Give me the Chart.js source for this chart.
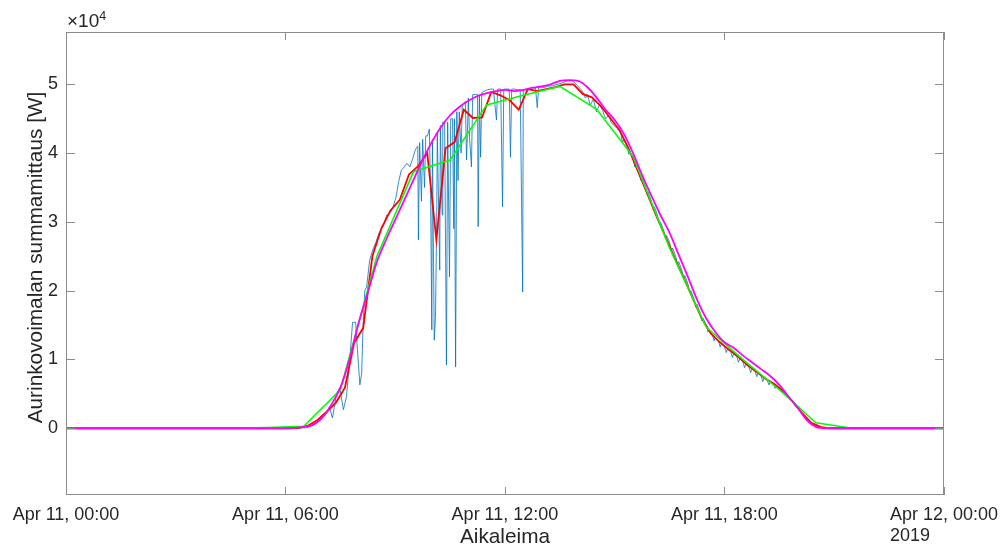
<!DOCTYPE html>
<html>
<head>
<meta charset="utf-8">
<script src="https://cdn.jsdelivr.net/npm/chart.js@4.4.1/dist/chart.umd.min.js"></script>
<style>
  html, body { margin: 0; padding: 0; background: #fff; }
  canvas { display: block; }
</style>
</head>
<body>
<canvas id="power" width="1007" height="549"></canvas>
<script>
// time = minutes from Apr 11 00:00, power in units of 10^4 W
var xTicks = [0, 360, 720, 1080, 1440];
var xTickLabels = ['Apr 11, 00:00', 'Apr 11, 06:00', 'Apr 11, 12:00', 'Apr 11, 18:00', 'Apr 12, 00:00'];
var yTicks = [0, 1, 2, 3, 4, 5];

// raw measurement (blue)
var rawTime = [0, 380, 395, 405, 412, 418, 423, 428, 432, 437, 444, 449, 455, 460, 465, 470, 475, 478, 482, 485, 487, 490, 493, 498, 503, 508, 514,
  521, 526, 531, 536, 541, 546, 550, 555, 559, 564, 568, 573, 577, 578, 580, 583, 585, 588, 590, 593, 596, 598, 600, 601, 604, 606, 608, 609,
  613, 614, 617, 618, 621, 624, 626, 629, 631, 634, 636, 637, 639, 641, 643, 645, 648, 650, 655, 657, 660, 662, 665, 667, 672, 675, 676, 678,
  680, 682, 686, 691, 696, 701, 706, 708, 713, 716, 718, 722, 727, 729, 731, 736, 740, 745, 749, 750, 755, 760, 765, 770, 773, 775, 781, 790,
  798, 806, 814, 822, 831, 839, 847, 852, 855, 860, 865, 870, 875, 880, 885, 890, 894, 899, 905, 910, 913, 915, 920, 923, 925, 930, 933, 935,
  940, 943, 945, 950, 953, 955, 960, 963, 965, 970, 973, 975, 980, 983, 985, 990, 993, 995, 1000, 1003, 1005, 1010, 1013, 1015, 1020, 1023,
  1025, 1030, 1033, 1035, 1040, 1043, 1045, 1050, 1053, 1055, 1060, 1063, 1065, 1070, 1073, 1075, 1080, 1083, 1085, 1090, 1093, 1095, 1100,
  1103, 1105, 1110, 1113, 1115, 1120, 1123, 1125, 1130, 1133, 1135, 1140, 1143, 1145, 1150, 1153, 1155, 1160, 1163, 1165, 1170, 1175, 1180,
  1185, 1190, 1195, 1200, 1205, 1210, 1215, 1220, 1225, 1230, 1240, 1250, 1440];
var rawPower = [0, 0, 0.01, 0.04, 0.08, 0.12, 0.18, 0.22, 0.31, 0.15, 0.51, 0.59, 0.27, 0.46, 0.95, 1.54, 1.54, 1.14, 0.63, 0.8, 1.43, 2.0, 2.05, 2.44, 2.59, 2.7, 2.85,
  2.95, 3.1, 3.12, 3.2, 3.35, 3.6, 3.75, 3.8, 3.85, 3.8, 3.9, 4.05, 4.1, 2.74, 4.15, 3.3, 4.2, 3.5, 4.25, 4.25, 4.35, 3.4, 1.43, 4.2, 1.28, 1.61, 3.0, 4.3,
  2.3, 4.4, 3.1, 4.45, 4.45, 0.92, 4.45, 2.2, 4.5, 4.5, 2.9, 4.5, 0.89, 4.6, 3.6, 4.6, 4.0, 4.7, 4.75, 3.9, 4.8, 4.2, 3.8, 4.85, 4.85, 4.85, 2.93, 4.85,
  3.94, 4.88, 4.9, 4.92, 4.93, 4.93, 4.48, 4.93, 4.93, 3.22, 4.93, 4.93, 4.93, 3.94, 4.93, 4.93, 4.92, 4.92, 1.98, 4.92, 4.93, 4.92, 4.93, 4.95, 4.66, 4.95, 4.95, 4.97,
  4.98, 5.0, 5.02, 5.05, 5.05, 4.98, 4.9, 4.8, 4.85, 4.7, 4.78, 4.6, 4.7, 4.62, 4.5, 4.55, 4.45, 4.4, 4.35, 4.28, 4.15, 4.2, 4.1, 3.98, 4.02, 3.92, 3.8, 3.85,
  3.72, 3.6, 3.64, 3.52, 3.4, 3.43, 3.3, 3.18, 3.22, 3.1, 2.98, 3.0, 2.88, 2.76, 2.8, 2.7, 2.58, 2.62, 2.5, 2.38, 2.42, 2.3, 2.18, 2.22, 2.1, 1.98,
  2.0, 1.88, 1.76, 1.8, 1.68, 1.56, 1.6, 1.5, 1.4, 1.43, 1.36, 1.27, 1.32, 1.27, 1.18, 1.23, 1.19, 1.1, 1.15, 1.12, 1.03, 1.08, 1.05,
  0.96, 1.01, 0.97, 0.88, 0.93, 0.9, 0.81, 0.86, 0.83, 0.75, 0.8, 0.76, 0.68, 0.73, 0.7, 0.63, 0.68, 0.65, 0.58, 0.62, 0.58, 0.54, 0.5,
  0.45, 0.4, 0.34, 0.29, 0.24, 0.18, 0.13, 0.09, 0.06, 0.03, 0.01, 0, 0];

// 15 minute averages (red)
var avgTime = [0, 367.5, 382.5, 397.5, 412.5, 427.5, 442.5, 457.5, 472.5, 487.5, 502.5, 517.5, 532.5, 547.5, 562.5, 577.5, 592.5, 607.5,
  622.5, 637.5, 652.5, 667.5, 682.5, 697.5, 712.5, 727.5, 742.5, 757.5, 772.5, 787.5, 802.5, 817.5, 832.5, 847.5, 862.5, 877.5, 892.5,
  907.5, 922.5, 937.5, 952.5, 967.5, 982.5, 997.5, 1012.5, 1027.5, 1042.5, 1057.5, 1072.5, 1087.5, 1102.5, 1117.5, 1132.5, 1147.5,
  1162.5, 1177.5, 1192.5, 1207.5, 1222.5, 1237.5, 1252.5, 1440];
var avgPower = [0, 0, 0.005, 0.04, 0.12, 0.24, 0.37, 0.59, 1.24, 1.46, 2.5, 2.91, 3.17, 3.32, 3.69, 3.81, 4.0, 2.74,
  4.07, 4.16, 4.63, 4.51, 4.52, 4.89, 4.84, 4.77, 4.63, 4.93, 4.9, 4.93, 4.96, 5.0, 5.0, 4.86, 4.81, 4.68, 4.51,
  4.34, 4.07, 3.75, 3.43, 3.1, 2.8, 2.49, 2.2, 1.9, 1.6, 1.38, 1.25, 1.14, 1.04, 0.92, 0.82, 0.72,
  0.64, 0.53, 0.38, 0.22, 0.08, 0.02, 0, 0];

// hourly averages (green)
var hourTime = [0, 30, 90, 150, 210, 270, 330, 390, 450, 510, 570, 630, 690, 750, 810, 870, 930, 990, 1050, 1110, 1170, 1230, 1290, 1350, 1410, 1440];
var hourPower = [0, 0, 0, 0, 0, 0, 0.01, 0.03, 0.56, 2.5, 3.73, 3.9, 4.7, 4.84, 4.97, 4.64, 3.95, 2.62, 1.47, 1.0, 0.56, 0.08, 0, 0, 0, 0];

// smoothed curve (magenta)
var fitTime = [0, 330, 360, 375, 390, 405, 420, 435, 450, 465, 480, 495, 510, 525, 540, 555, 570, 585, 600, 615, 630, 645, 660, 675, 690,
  705, 720, 735, 750, 765, 780, 795, 810, 825, 840, 855, 870, 885, 900, 915, 930, 945, 960, 975, 990, 1005, 1020, 1035, 1050, 1065,
  1080, 1095, 1110, 1125, 1140, 1155, 1170, 1185, 1200, 1215, 1230, 1245, 1440];
var fitPower = [0, 0, 0, 0.005, 0.02, 0.05, 0.15, 0.34, 0.59, 1.0, 1.53, 1.97, 2.42, 2.74, 3.03, 3.32, 3.61, 3.9, 4.16, 4.38, 4.55, 4.67, 4.76, 4.83, 4.87,
  4.9, 4.92, 4.9, 4.92, 4.95, 4.97, 5.0, 5.05, 5.06, 5.05, 4.96, 4.81, 4.63, 4.48, 4.28, 4.0, 3.68, 3.38, 3.1, 2.84, 2.52, 2.2, 1.87, 1.6, 1.4,
  1.25, 1.17, 1.06, 0.96, 0.86, 0.76, 0.63, 0.46, 0.3, 0.12, 0.02, 0, 0];

function pairs(t, v) {
  return t.map(function (x, i) { return { x: x, y: v[i] }; });
}

var fontFamily = "'Liberation Sans', Arial, Helvetica, sans-serif";
var textColor = '#262626';
var yTitle = 'Aurinkovoimalan summamittaus [W]';

var matlabAxes = {
  id: 'matlabAxes',
  afterDatasetsDraw: function (chart) {
    var ctx = chart.ctx, a = chart.chartArea;
    var xs = chart.scales.x, ys = chart.scales.y;
    ctx.save();
    ctx.strokeStyle = '#8c8c8c';
    ctx.lineWidth = 1;
    ctx.strokeRect(a.left + 0.5, a.top + 0.5, a.right - a.left - 1, a.bottom - a.top - 1);
    ctx.beginPath();
    xTicks.forEach(function (t) {
      var px = Math.round(xs.getPixelForValue(t)) + 0.5;
      ctx.moveTo(px, a.bottom); ctx.lineTo(px, a.bottom - 8);
      ctx.moveTo(px, a.top); ctx.lineTo(px, a.top + 8);
    });
    yTicks.forEach(function (t) {
      var py = Math.round(ys.getPixelForValue(t)) + 0.5;
      ctx.moveTo(a.left, py); ctx.lineTo(a.left + 9, py);
      ctx.moveTo(a.right, py); ctx.lineTo(a.right - 9, py);
    });
    ctx.stroke();

    ctx.fillStyle = textColor;
    ctx.textBaseline = 'alphabetic';
    ctx.textAlign = 'left';
    ctx.font = '19px ' + fontFamily;
    ctx.fillText('\u00d710', a.left + 1, a.top - 5);
    var w = ctx.measureText('\u00d710').width;
    ctx.font = '12.5px ' + fontFamily;
    ctx.fillText('4', a.left + 1 + w, a.top - 12);

    ctx.font = '18px ' + fontFamily;
    var last = xTickLabels[xTickLabels.length - 1];
    var lw = ctx.measureText(last).width;
    var lx = xs.getPixelForValue(xTicks[xTicks.length - 1]) - lw / 2;
    ctx.textBaseline = 'top';
    ctx.fillText('2019', lx, 527);

    // y axis title, a little above the axis centre as in the original
    ctx.translate(36, (a.top + a.bottom) / 2 - 6);
    ctx.rotate(-Math.PI / 2);
    ctx.font = '20.8px ' + fontFamily;
    ctx.textAlign = 'center';
    ctx.textBaseline = 'middle';
    ctx.fillText(yTitle, 0, 0);
    ctx.restore();
  }
};

new Chart(document.getElementById('power'), {
  type: 'line',
  data: {
    datasets: [{
      label: 'Mittaus',
      data: pairs(rawTime, rawPower),
      borderColor: '#0072BD',
      borderWidth: 0.8,
      pointRadius: 0,
      order: 4
    }, {
      label: '15 min',
      data: pairs(avgTime, avgPower),
      borderColor: '#FF0000',
      borderWidth: 1.8,
      pointRadius: 0,
      order: 3
    }, {
      label: '1 h',
      data: pairs(hourTime, hourPower),
      borderColor: '#00FF00',
      borderWidth: 1.6,
      pointRadius: 0,
      order: 2
    }, {
      label: 'Sovite',
      data: pairs(fitTime, fitPower),
      borderColor: '#FF00FF',
      borderWidth: 1.8,
      pointRadius: 0,
      cubicInterpolationMode: 'monotone',
      order: 1
    }]
  },
  plugins: [matlabAxes],
  options: {
    responsive: false,
    animation: false,
    layout: { padding: { left: 0, right: 62, top: 32, bottom: 0 } },
    plugins: { legend: { display: false }, tooltip: { enabled: false } },
    scales: {
      x: {
        type: 'linear',
        min: 0,
        max: 1440,
        afterBuildTicks: function (s) { s.ticks = xTicks.map(function (v) { return { value: v }; }); },
        afterFit: function (s) { s.height = 54; },
        grid: { display: false, drawTicks: false },
        border: { display: false },
        ticks: {
          autoSkip: false,
          maxRotation: 0,
          padding: 9,
          color: textColor,
          font: { family: fontFamily, size: 18 },
          callback: function (v, i) { return xTickLabels[i]; }
        },
        title: {
          display: true,
          text: 'Aikaleima',
          color: textColor,
          font: { family: fontFamily, size: 20.8 },
          padding: { top: 0, bottom: -1 }
        }
      },
      y: {
        type: 'linear',
        min: -0.97,
        max: 5.76,
        afterBuildTicks: function (s) { s.ticks = yTicks.map(function (v) { return { value: v }; }); },
        afterFit: function (s) { s.width = 66; },
        grid: { display: false, drawTicks: false },
        border: { display: false },
        ticks: {
          padding: 8,
          color: textColor,
          font: { family: fontFamily, size: 18 },
          callback: function (v) { return String(v); }
        }
      }
    }
  }
});
</script>
</body>
</html>
